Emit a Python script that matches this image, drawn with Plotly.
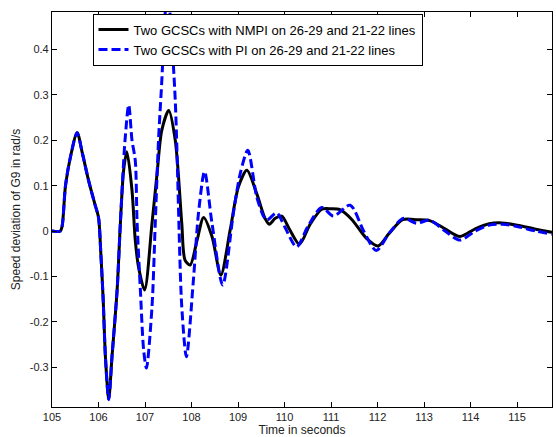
import plotly.graph_objects as go

# ---- data ----
t_nmpi = [105.0, 105.18, 105.22, 105.29, 105.4, 105.54, 105.65, 105.79, 105.92, 106.0,
          106.05, 106.1, 106.15, 106.22, 106.29, 106.4, 106.47, 106.54, 106.61, 106.72,
          106.79, 106.86, 106.99, 107.15, 107.26, 107.36, 107.51, 107.65, 107.79, 107.86,
          107.97, 108.12, 108.26, 108.44, 108.63, 108.83, 109.01, 109.19, 109.4, 109.58,
          109.67, 109.8, 109.94, 110.1, 110.32, 110.55, 110.8, 111.0, 111.19, 111.45,
          111.75, 112.01, 112.25, 112.54, 112.85, 113.12, 113.45, 113.77, 114.1, 114.4,
          114.66, 115.0, 115.4, 115.75]
y_nmpi = [0.0, 0.0, 0.012, 0.1, 0.165, 0.217, 0.173, 0.11, 0.06, 0.03,
          -0.05, -0.15, -0.28, -0.37, -0.277, -0.13, 0.017, 0.134, 0.175, 0.09,
          -0.02, -0.079, -0.13, 0.017, 0.128, 0.222, 0.266, 0.2, 0.017, -0.064,
          -0.075, -0.02, 0.03, -0.012, -0.097, 0.002, 0.098, 0.134, 0.083, 0.028,
          0.015, 0.028, 0.033, 0.005, -0.029, 0.015, 0.048, 0.049, 0.047, 0.025,
          -0.015, -0.033, -0.005, 0.025, 0.025, 0.023, 0.005, -0.012, 0.005, 0.016,
          0.018, 0.013, 0.004, -0.003]

t_pi = [105.0, 105.18, 105.22, 105.29, 105.4, 105.54, 105.65, 105.79, 105.92, 106.0,
        106.05, 106.1, 106.15, 106.22, 106.29, 106.4, 106.47, 106.57, 106.65, 106.72,
        106.79, 106.83, 106.9, 106.97, 107.03, 107.15, 107.22, 107.29, 107.35, 107.48,
        107.64, 107.79, 107.89, 108.04, 108.15, 108.28, 108.44, 108.67, 108.9, 109.05,
        109.21, 109.4, 109.55, 109.62, 109.83, 110.0, 110.26, 110.5, 110.8, 111.05,
        111.41, 111.7, 111.97, 112.25, 112.55, 112.84, 113.12, 113.45, 113.77, 114.1,
        114.4, 114.69, 115.0, 115.4, 115.75]
y_pi = [0.0, 0.0, 0.012, 0.1, 0.165, 0.217, 0.173, 0.11, 0.06, 0.03,
        -0.05, -0.15, -0.28, -0.372, -0.277, -0.13, 0.017, 0.2, 0.278, 0.2,
        0.156, 0.017, -0.13, -0.262, -0.302, -0.167, 0.017, 0.2, 0.31, 0.53,
        0.31, -0.167, -0.277, -0.108, 0.04, 0.131, 0.017, -0.119, 0.04, 0.128,
        0.178, 0.076, 0.032, 0.024, 0.04, 0.01, -0.035, 0.01, 0.052, 0.033,
        0.057, 0.0, -0.043, -0.005, 0.028, 0.017, 0.024, 0.0, -0.02, 0.0,
        0.013, 0.015, 0.01, 0.0, -0.007]

name_nmpi = "Two GCSCs with NMPI on 26-29 and 21-22 lines"
name_pi = "Two GCSCs with PI on 26-29 and 21-22 lines"

x_ticks = [105, 106, 107, 108, 109, 110, 111, 112, 113, 114, 115]
y_ticks = [-0.3, -0.2, -0.1, 0, 0.1, 0.2, 0.3, 0.4]
y_tick_text = ["-0.3", "-0.2", "-0.1", "0", "0.1", "0.2", "0.3", "0.4"]

x_title = "Time in seconds"
y_title = "Speed deviation of G9 in rad/s"

fig = go.Figure()
fig.add_trace(go.Scatter(x=t_nmpi, y=y_nmpi, mode="lines", name=name_nmpi,
                         line=dict(color="#000000", width=3, shape="spline", smoothing=0.8)))
fig.add_trace(go.Scatter(x=t_pi, y=y_pi, mode="lines", name=name_pi,
                         line=dict(color="#0000FF", width=3, dash="9px,4px", shape="spline", smoothing=0.8)))

axis_common = dict(showline=True, linecolor="#000000", linewidth=1.2, mirror="ticks",
                   ticks="inside", ticklen=5, tickcolor="#000000", showgrid=False,
                   zeroline=False, automargin=False,
                   tickfont=dict(family="Arial", size=11, color="#222222"))

fig.update_layout(
    width=556, height=437,
    margin=dict(l=51.5, r=4, t=11.5, b=29.5),
    paper_bgcolor="white", plot_bgcolor="white",
    font=dict(family="Arial", color="#000000"),
    showlegend=True,
    legend=dict(x=0.081, y=0.996, xanchor="left", yanchor="top",
                bgcolor="white", bordercolor="#000000", borderwidth=1,
                font=dict(family="Arial", size=13, color="#000000"),
                itemwidth=30, tracegroupgap=0),
    xaxis=dict(range=[105, 115.75], tickvals=x_ticks,
               title=dict(text=x_title, font=dict(family="Arial", size=12, color="#222222"), standoff=3),
               **axis_common),
    yaxis=dict(range=[-0.388, 0.483], tickvals=y_ticks, ticktext=y_tick_text,
               title=dict(text=y_title, font=dict(family="Arial", size=12, color="#222222"), standoff=6),
               **axis_common),
)

fig.write_html("out.html", config={"displayModeBar": False},
               post_script="document.body.style.margin='0px';document.body.style.overflow='hidden';")
